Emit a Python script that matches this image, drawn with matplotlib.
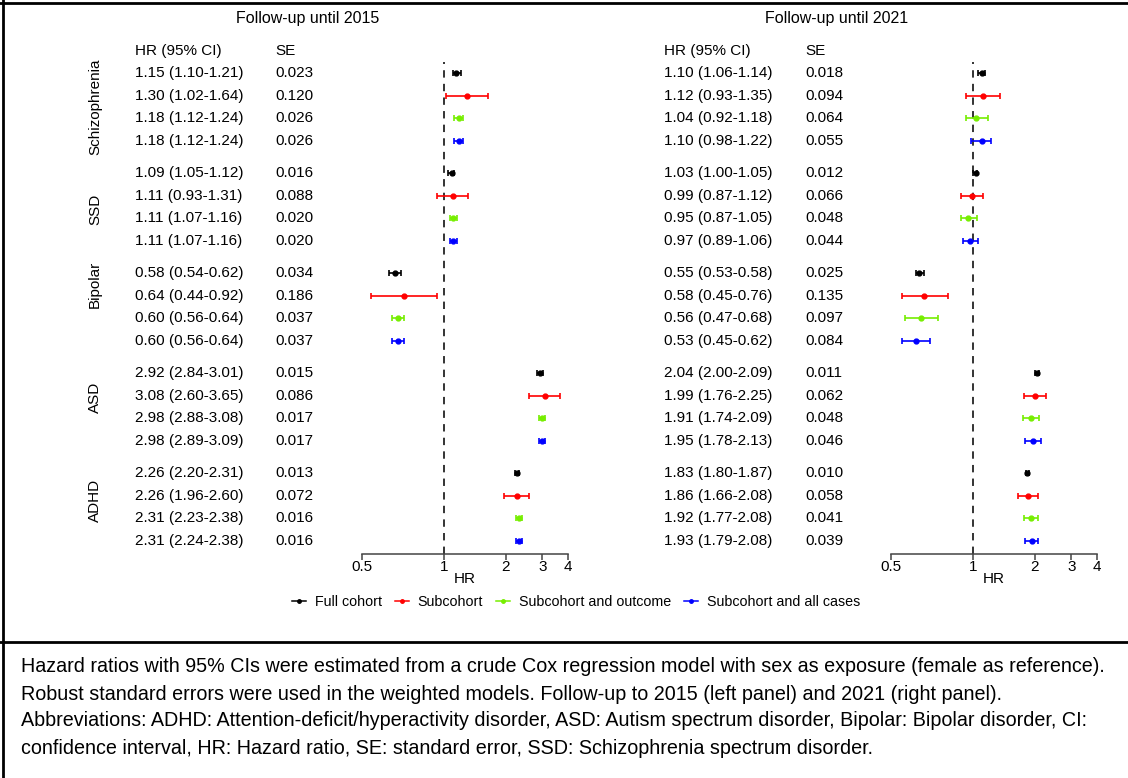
import numpy as np
import matplotlib
matplotlib.use("Agg")
from matplotlib import pyplot as plt
from matplotlib import transforms
from matplotlib.lines import Line2D

plt.rcParams['font.family'] = ['Liberation Sans', 'DejaVu Sans']

# outcomes (row groups) and the four cohort definitions inside each group
groups = ["Schizophrenia", "SSD", "Bipolar", "ASD", "ADHD"]
group_label_y = [107, 209, 284, 397, 500]   # pixel rows of the rotated group names
series = ["Full cohort", "Subcohort", "Subcohort and outcome", "Subcohort and all cases"]
colors = ["black", "#ff0000", "#76ee00", "#0000ff"]

# follow-up until 2015
hr_2015 = [[1.15, 1.30, 1.18, 1.18],
           [1.09, 1.11, 1.11, 1.11],
           [0.58, 0.64, 0.60, 0.60],
           [2.92, 3.08, 2.98, 2.98],
           [2.26, 2.26, 2.31, 2.31]]
lo_2015 = [[1.10, 1.02, 1.12, 1.12],
           [1.05, 0.93, 1.07, 1.07],
           [0.54, 0.44, 0.56, 0.56],
           [2.84, 2.60, 2.88, 2.89],
           [2.20, 1.96, 2.23, 2.24]]
hi_2015 = [[1.21, 1.64, 1.24, 1.24],
           [1.12, 1.31, 1.16, 1.16],
           [0.62, 0.92, 0.64, 0.64],
           [3.01, 3.65, 3.08, 3.09],
           [2.31, 2.60, 2.38, 2.38]]
se_2015 = [[0.023, 0.120, 0.026, 0.026],
           [0.016, 0.088, 0.020, 0.020],
           [0.034, 0.186, 0.037, 0.037],
           [0.015, 0.086, 0.017, 0.017],
           [0.013, 0.072, 0.016, 0.016]]

# follow-up until 2021
hr_2021 = [[1.10, 1.12, 1.04, 1.10],
           [1.03, 0.99, 0.95, 0.97],
           [0.55, 0.58, 0.56, 0.53],
           [2.04, 1.99, 1.91, 1.95],
           [1.83, 1.86, 1.92, 1.93]]
lo_2021 = [[1.06, 0.93, 0.92, 0.98],
           [1.00, 0.87, 0.87, 0.89],
           [0.53, 0.45, 0.47, 0.45],
           [2.00, 1.76, 1.74, 1.78],
           [1.80, 1.66, 1.77, 1.79]]
hi_2021 = [[1.14, 1.35, 1.18, 1.22],
           [1.05, 1.12, 1.05, 1.06],
           [0.58, 0.76, 0.68, 0.62],
           [2.09, 2.25, 2.09, 2.13],
           [1.87, 2.08, 2.08, 2.08]]
se_2021 = [[0.018, 0.094, 0.064, 0.055],
           [0.012, 0.066, 0.048, 0.044],
           [0.025, 0.135, 0.097, 0.084],
           [0.011, 0.062, 0.048, 0.046],
           [0.010, 0.058, 0.041, 0.039]]

tick_pos = [0.4, 1, 2, 3, 4]
tick_lab = ["0.5", "1", "2", "3", "4"]

footnote = [
    "Hazard ratios with 95% CIs were estimated from a crude Cox regression model with sex as exposure (female as reference).",
    "Robust standard errors were used in the weighted models. Follow-up to 2015 (left panel) and 2021 (right panel).",
    "Abbreviations: ADHD: Attention-deficit/hyperactivity disorder, ASD: Autism spectrum disorder, Bipolar: Bipolar disorder, CI:",
    "confidence interval, HR: Hazard ratio, SE: standard error, SSD: Schizophrenia spectrum disorder.",
]

W, H = 1128, 778
GAP = 0.45


def fx(px):
    return px / W


def fy(py):
    return 1 - py / H


def row_y(g, s):
    return g * (4 + GAP) + s


def panel(x0, title, hr, lo, hi, se, txt_x, se_x, with_groups):
    ax = fig.add_axes([fx(x0), fy(554), 206 / W, (554 - 62) / H])
    ax.set_xscale("log")
    ax.set_xlim(0.4, 4)
    ax.set_ylim(21.38, -0.5)
    for sp in ["top", "right", "left"]:
        ax.spines[sp].set_visible(False)
    ax.spines["bottom"].set_color("#444444")
    ax.spines["bottom"].set_linewidth(1.1)
    ax.set_yticks([])
    ax.set_xticks(tick_pos)
    ax.set_xticklabels(tick_lab)
    ax.xaxis.set_minor_locator(matplotlib.ticker.NullLocator())
    ax.tick_params(axis="x", length=4, width=1.1, color="#444444", labelsize=11, pad=0)
    ax.set_xlabel("HR", fontsize=11, labelpad=-1)
    ax.axvline(1, color="#333333", lw=1.4, dashes=(3.8, 3.2))

    tr = transforms.blended_transform_factory(fig.transFigure, ax.transData)
    ax.text(fx(txt_x), -1, "HR (95% CI)", transform=tr, fontsize=11, va="center", clip_on=False)
    ax.text(fx(se_x), -1, "SE", transform=tr, fontsize=11, va="center", clip_on=False)

    for g in range(len(groups)):
        for s in range(len(series)):
            y = row_y(g, s)
            h, l, u = hr[g][s], lo[g][s], hi[g][s]
            ax.errorbar(h, y, xerr=[[h - l], [u - h]], fmt="o", color=colors[s],
                        ms=3.5, lw=1.2, capsize=2.2, capthick=1.2)
            ax.text(fx(txt_x), y, f"{h:.2f} ({l:.2f}-{u:.2f})", transform=tr,
                    fontsize=11, va="center")
            ax.text(fx(se_x), y, f"{se[g][s]:.3f}", transform=tr, fontsize=11, va="center")
        if with_groups:
            fig.text(fx(95), fy(group_label_y[g]), groups[g], fontsize=11,
                     rotation=90, ha="center", va="center")

    fig.text(fx(x0 - 54), fy(18), title, fontsize=11.5, ha="center", va="center")
    return ax


fig = plt.figure(figsize=(W / 100, H / 100), dpi=100)

panel(362, "Follow-up until 2015", hr_2015, lo_2015, hi_2015, se_2015, 135, 275, True)
panel(891, "Follow-up until 2021", hr_2021, lo_2021, hi_2021, se_2021, 664, 805, False)

handles = [Line2D([], [], color=c, marker="o", ms=2.5, lw=1.1) for c in colors]
fig.legend(handles, series, loc="center", bbox_to_anchor=(fx(576), fy(602)), ncol=4,
           frameon=False, fontsize=10.3, handlelength=1.0, handletextpad=0.6,
           columnspacing=0.9)

# frame lines around the figure block and the caption
fig.add_artist(Line2D([0, 1], [fy(3), fy(3)], color="black", lw=2))
fig.add_artist(Line2D([fx(3), fx(3)], [0, 1], color="black", lw=2))
fig.add_artist(Line2D([0, 1], [fy(642), fy(642)], color="black", lw=2))

for i, line in enumerate(footnote):
    fig.text(fx(21), fy(667 + 27 * i), line, fontsize=14.2, va="center")

fig.savefig("out.png", dpi=100, facecolor="white")
